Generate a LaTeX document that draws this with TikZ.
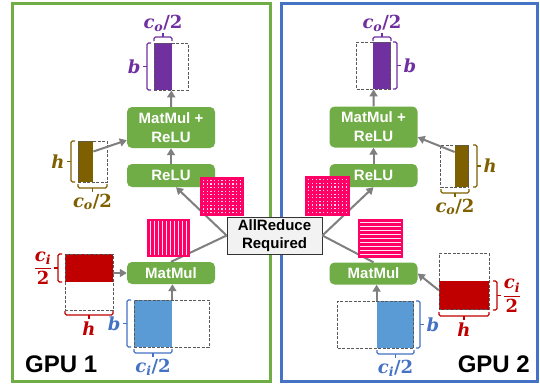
\documentclass[tikz,border=0pt]{standalone}
\usepackage{amsmath,amssymb}
\usepackage{fontspec}
\setsansfont{Liberation Sans}
\newfontfamily\lblfont{DejaVu Serif}
\usepackage{tikz}
\usetikzlibrary{positioning,calc,arrows.meta}

\newcommand{\lsym}[1]{\text{\lblfont\bfseries\itshape #1}}
\newcommand{\lnum}[1]{\text{\lblfont\bfseries #1}}

\definecolor{gpugreen}{HTML}{70AD47}
\definecolor{gpublue}{HTML}{4472C4}
\definecolor{outpurple}{HTML}{7030A0}
\definecolor{wbrown}{HTML}{7F6000}
\definecolor{wred}{HTML}{C00000}
\definecolor{xblue}{HTML}{5B9BD5}
\definecolor{comm}{HTML}{FF0066}
\definecolor{arrgray}{HTML}{7F7F7F}

\tikzset{
  op/.style={fill=gpugreen, rounded corners=5pt, text=white, align=center, inner sep=0pt,
    minimum width=88pt, font=\sffamily\bfseries\fontsize{15}{19}\selectfont},
  tensor/.style={draw=black!65, dashed, dash pattern=on 3pt off 1.5pt, line width=0.8pt, inner sep=0pt},
  part/.style={inner sep=0pt},
  flow/.style={draw=arrgray, line width=2pt, -{Triangle[width=8pt,length=7pt]}},
  link/.style={draw=arrgray, line width=2pt},
  brc/.style={line width=1.3pt, rounded corners=1.5pt},
  lbl/.style={font=\fontsize{18}{21}\selectfont, inner sep=2pt},
  gpulbl/.style={font=\sffamily\bfseries\fontsize{24}{24}\selectfont, inner sep=0pt},
}

\begin{document}
\begin{tikzpicture}[x=1pt, y=-1pt]
    \useasboundingbox (0,0) rectangle (540,384);
    \fill[white] (0,0) rectangle (540,384);

    % GPU frames
    \draw[gpugreen, line width=3pt] (12,3) rectangle (270,381);
    \draw[gpublue, line width=3pt] (281,3) rectangle (537,381);
    \node[gpulbl, anchor=base west] (gpu1) at (25,372) {GPU 1};
    \node[gpulbl, anchor=base east] (gpu2) at (530,372) {GPU 2};

    % Operators
    \node[op, minimum height=41pt] (mmrL) at (171,127.5) {MatMul +\\ReLU};
    \node[op, minimum height=23pt] (reluL) at (171,175.5) {ReLU};
    \node[op, minimum height=22pt] (mmL) at (171,273) {MatMul};
    \node[op, minimum height=41pt] (mmrR) at (373.5,127) {MatMul +\\ReLU};
    \node[op, minimum height=23pt] (reluR) at (373.5,175.5) {ReLU};
    \node[op, minimum height=22pt] (mmR) at (373.5,273.5) {MatMul};

    \node[draw=black!80, fill=black!5, line width=0.8pt, minimum width=95pt, minimum height=37pt,
      inner sep=0pt, align=center, font=\sffamily\bfseries\fontsize{15}{18}\selectfont] (ar) at (274.5,235.5) {AllReduce\\Required};

    % Tensors, GPU 1
    \node[part, fill=outpurple, minimum width=18pt, minimum height=47pt, anchor=west] (outLf) at (154,66.5) {};
    \node[tensor, minimum width=34pt, minimum height=47pt, anchor=west] (outL) at (outLf.west) {};
    \node[part, fill=wbrown, minimum width=15pt, minimum height=41pt, anchor=west] (w2Lf) at (78,161.5) {};
    \node[tensor, minimum width=29pt, minimum height=41pt, anchor=west] (w2L) at (w2Lf.west) {};
    \node[part, fill=wred, minimum width=48pt, minimum height=28pt, anchor=north] (w1Lf) at (89,254) {};
    \node[tensor, minimum width=48pt, minimum height=56pt, anchor=north] (w1L) at (w1Lf.north) {};
    \node[part, fill=xblue, minimum width=38pt, minimum height=47pt, anchor=west] (xLf) at (134,323.5) {};
    \node[tensor, minimum width=75pt, minimum height=47pt, anchor=west] (xL) at (xLf.west) {};

    % Tensors, GPU 2
    \node[part, fill=outpurple, minimum width=18pt, minimum height=47pt, anchor=east] (outRf) at (391,65.5) {};
    \node[tensor, minimum width=34pt, minimum height=47pt, anchor=east] (outR) at (outRf.east) {};
    \node[part, fill=wbrown, minimum width=14pt, minimum height=42pt, anchor=east] (w2Rf) at (469,166) {};
    \node[tensor, minimum width=28pt, minimum height=42pt, anchor=east] (w2R) at (w2Rf.east) {};
    \node[part, fill=wred, minimum width=50pt, minimum height=29pt, anchor=south] (w1Rf) at (464,310) {};
    \node[tensor, minimum width=50pt, minimum height=56pt, anchor=south] (w1R) at (w1Rf.south) {};
    \node[part, fill=xblue, minimum width=37pt, minimum height=47pt, anchor=east] (xRf) at (414,324.5) {};
    \node[tensor, minimum width=76pt, minimum height=47pt, anchor=east] (xR) at (xRf.east) {};

    % Data flow
    \draw[flow] (mmrL.north) -- (outL.south);
    \draw[flow] (reluL.north) -- (mmrL.south);
    \draw[flow] ([yshift=10pt]w2Lf.east) -- (mmrL.196);
    \draw[flow] (w1Lf.east |- mmL.west) -- (mmL.west);
    \draw[flow] (xLf.north east) -- (xLf.north east |- mmL.south);
    \draw[link] (mmL.north) -- (ar.west);
    \draw[flow] (ar.west) -- ([xshift=5pt]reluL.south);

    \draw[flow] (mmrR.north) -- (outR.south);
    \draw[flow] (reluR.north) -- (mmrR.south);
    \draw[flow] ([yshift=14pt]w2Rf.west) -- (mmrR.-13);
    \draw[flow] ([yshift=5pt]w1Rf.west) -- (mmR.east);
    \draw[flow] (xRf.north west) -- (xRf.north west |- mmR.south);
    \draw[link] (mmR.north) -- (ar.east);
    \draw[flow] (ar.east) -- (reluR.south);

    % Partial results
    \fill[comm] (147,219) rectangle (190,257);
    \foreach \i in {1,...,10}
        \draw[white!90!comm, line width=1pt] ({147+\i*43/11},221) -- ({147+\i*43/11},255);
    \fill[comm] (358,219) rectangle (403,258);
    \foreach \j in {1,...,9}
        \draw[white!90!comm, line width=1pt] (360,{219+\j*39/10}) -- (401,{219+\j*39/10});
    \fill[comm] (200,177) rectangle (244,216);
    \fill[comm] (305,176) rectangle (350,216);
    \foreach \i in {1,...,11}
        \foreach \j in {1,...,10} {
            \fill[white!85!comm] ({200+\i*44/12-0.6},{177+\j*39/11-0.6}) rectangle ++(1.2,1.2);
            \fill[white!85!comm] ({305+\i*45/12-0.6},{176+\j*40/11-0.6}) rectangle ++(1.2,1.2);
        }

    % Braces, GPU 1
    \draw[brc, outpurple] (151,43) -| (147,90) -- (151,90);
    \draw[brc, outpurple] (147,66.5) -- (143,66.5) node[lbl, left, text=outpurple] (bOL) {$\lsym{b}$};
    \draw[brc, outpurple] (154,41) |- (172,37) -- (172,41);
    \draw[brc, outpurple] (163,37) -- (163,33) node[lbl, above, inner sep=1pt, text=outpurple] (coOL) {$\lsym{c}_{\lsym{o}}\lnum{/2}$};
    \draw[brc, wbrown] (75,141) -| (71,182) -- (75,182);
    \draw[brc, wbrown] (71,161.5) -- (67,161.5) node[lbl, left, text=wbrown] (hWL) {$\lsym{h}$};
    \draw[brc, wbrown] (78,184) |- (107,188) -- (107,184);
    \draw[brc, wbrown] (92.5,188) -- (92.5,192) node[lbl, below, inner sep=1pt, text=wbrown] (coWL) {$\lsym{c}_{\lsym{o}}\lnum{/2}$};
    \draw[brc, wred] (62,254) -| (58,282) -- (62,282);
    \draw[brc, wred] (58,268) -- (54,268) node[lbl, left, inner sep=1pt, text=wred] (ciWL) {$\dfrac{\lsym{c}_{\lsym{i}}}{\lnum{2}}$};
    \draw[brc, wred] (65,311) |- (113,315) -- (113,311);
    \draw[brc, wred] (89,315) -- (89,319) node[lbl, below, inner sep=2pt, text=wred] (hXL) {$\lsym{h}$};
    \draw[brc, gpublue] (131,300) -| (127,347) -- (131,347);
    \draw[brc, gpublue] (127,323.5) -- (123,323.5) node[lbl, left, text=gpublue] (bXL) {$\lsym{b}$};
    \draw[brc, gpublue] (134,349) |- (172,353) -- (172,349);
    \draw[brc, gpublue] (153,353) -- (153,357) node[lbl, below, inner sep=1pt, text=gpublue] (ciXL) {$\lsym{c}_{\lsym{i}}\lnum{/2}$};

    % Braces, GPU 2
    \draw[brc, outpurple] (393,42) -| (397,89) -- (393,89);
    \draw[brc, outpurple] (397,65.5) -- (401,65.5) node[lbl, right, text=outpurple] (bOR) {$\lsym{b}$};
    \draw[brc, outpurple] (373,41) |- (391,37) -- (391,41);
    \draw[brc, outpurple] (382,37) -- (382,33) node[lbl, above, inner sep=1pt, text=outpurple] (coOR) {$\lsym{c}_{\lsym{o}}\lnum{/2}$};
    \draw[brc, wbrown] (473,145) -| (477,187) -- (473,187);
    \draw[brc, wbrown] (477,166) -- (481,166) node[lbl, right, text=wbrown] (hWR) {$\lsym{h}$};
    \draw[brc, wbrown] (441,189) |- (469,193) -- (469,189);
    \draw[brc, wbrown] (455,193) -- (455,197) node[lbl, below, inner sep=1pt, text=wbrown] (coWR) {$\lsym{c}_{\lsym{o}}\lnum{/2}$};
    \draw[brc, wred] (493,281) -| (497,310) -- (493,310);
    \draw[brc, wred] (497,295.5) -- (501,295.5) node[lbl, right, inner sep=1pt, text=wred] (ciWR) {$\dfrac{\lsym{c}_{\lsym{i}}}{\lnum{2}}$};
    \draw[brc, wred] (439,312) |- (489,316) -- (489,312);
    \draw[brc, wred] (464,316) -- (464,320) node[lbl, below, inner sep=2pt, text=wred] (hXR) {$\lsym{h}$};
    \draw[brc, gpublue] (416,301) -| (420,348) -- (416,348);
    \draw[brc, gpublue] (420,324.5) -- (424,324.5) node[lbl, right, text=gpublue] (bXR) {$\lsym{b}$};
    \draw[brc, gpublue] (377,350) |- (414,354) -- (414,350);
    \draw[brc, gpublue] (395.5,354) -- (395.5,358) node[lbl, below, inner sep=1pt, text=gpublue] (ciXR) {$\lsym{c}_{\lsym{i}}\lnum{/2}$};
\end{tikzpicture}
\end{document}
